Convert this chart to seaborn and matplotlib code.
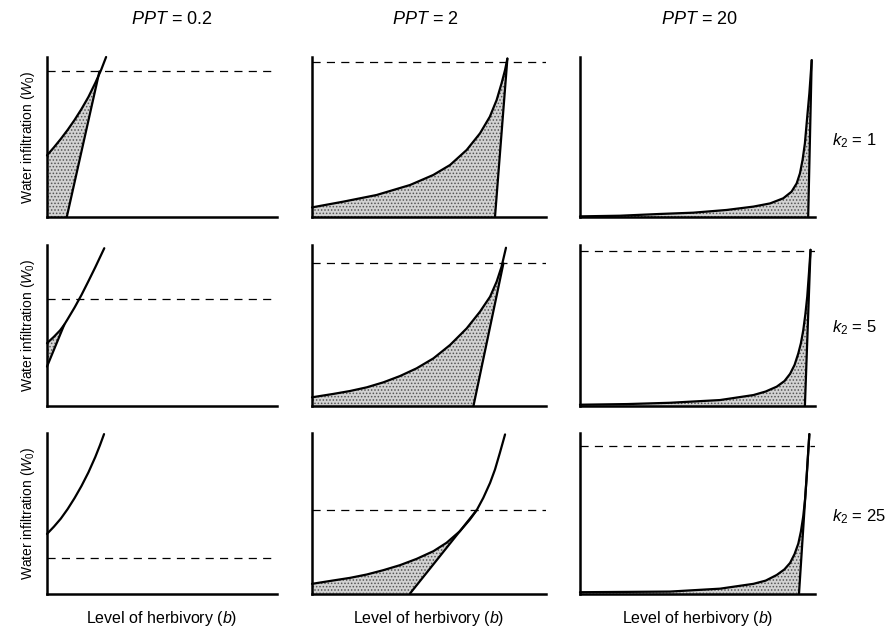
import numpy as np
import matplotlib
matplotlib.use("Agg")
import matplotlib.pyplot as plt
import seaborn as sns

# column / row headers
ppt_labels = ["0.2", "2", "20"]
k2_labels = ["1", "5", "25"]
ylabel = r"Water infiltration ($W_0$)"
xlabel = r"Level of herbivory ($b$)"

# curves (normalised panel coordinates, 0..1)
curve_x_r1c1 = [0.0, 0.03, 0.06, 0.09, 0.12, 0.15, 0.18, 0.21, 0.235, 0.257]
curve_y_r1c1 = [0.385, 0.435, 0.488, 0.545, 0.607, 0.675, 0.75, 0.838, 0.918, 1.0]
curve_x_r1c2 = [0.0, 0.134, 0.276, 0.419, 0.518, 0.59, 0.661, 0.718, 0.76, 0.789, 0.81, 0.825, 0.835]
curve_y_r1c2 = [0.06, 0.096, 0.1375, 0.2, 0.2625, 0.325, 0.419, 0.523, 0.627, 0.731, 0.835, 0.919, 0.99]
curve_x_r1c3 = [0.0, 0.17, 0.34, 0.482, 0.624, 0.738, 0.809, 0.865, 0.9, 0.922,
                0.936, 0.947, 0.957, 0.967, 0.976, 0.986]
curve_y_r1c3 = [0.004, 0.008, 0.019, 0.027, 0.044, 0.065, 0.085, 0.117, 0.158, 0.21,
                0.273, 0.356, 0.46, 0.627, 0.773, 0.98]

curve_x_r2c1 = [0.0, 0.03, 0.057, 0.075, 0.09, 0.12, 0.15, 0.18, 0.21, 0.249]
curve_y_r2c1 = [0.39, 0.43, 0.47, 0.505, 0.54, 0.612, 0.69, 0.775, 0.862, 0.98]
curve_x_r2c2 = [0.0, 0.091, 0.162, 0.234, 0.305, 0.376, 0.447, 0.519, 0.59, 0.661,
                0.718, 0.761, 0.789, 0.81, 0.829]
curve_y_r2c2 = [0.054, 0.075, 0.093, 0.116, 0.147, 0.186, 0.234, 0.296, 0.379, 0.482,
                0.586, 0.679, 0.772, 0.865, 0.983]
curve_x_r2c3 = [0.0, 0.2, 0.383, 0.596, 0.738, 0.79, 0.837, 0.87, 0.894, 0.913,
                0.929, 0.94, 0.95, 0.959, 0.967, 0.974, 0.981]
curve_y_r2c3 = [0.008, 0.012, 0.02, 0.037, 0.068, 0.09, 0.12, 0.155, 0.2, 0.255,
                0.327, 0.39, 0.47, 0.57, 0.68, 0.82, 0.97]

curve_x_r3c1 = [0.0, 0.03, 0.06, 0.09, 0.12, 0.15, 0.18, 0.21, 0.23, 0.248]
curve_y_r3c1 = [0.37, 0.415, 0.465, 0.525, 0.593, 0.668, 0.752, 0.848, 0.92, 0.99]
curve_x_r3c2 = [0.0, 0.091, 0.162, 0.234, 0.305, 0.376, 0.447, 0.519, 0.575, 0.632,
                0.675, 0.704, 0.732, 0.761, 0.782, 0.803, 0.825]
curve_y_r3c2 = [0.06, 0.081, 0.097, 0.118, 0.145, 0.176, 0.215, 0.263, 0.315, 0.387,
                0.46, 0.518, 0.594, 0.687, 0.77, 0.874, 0.988]
curve_x_r3c3 = [0.0, 0.2, 0.383, 0.596, 0.738, 0.79, 0.837, 0.87, 0.894, 0.913,
                0.929, 0.94, 0.95, 0.958, 0.964, 0.97, 0.976]
curve_y_r3c3 = [0.008, 0.01, 0.012, 0.03, 0.06, 0.08, 0.115, 0.15, 0.19, 0.245,
                0.31, 0.385, 0.48, 0.59, 0.71, 0.85, 0.99]

# straight lines: [x0, x1], [y0, y1]  (None = no line)
line_r1c1 = ([0.086, 0.228], [0.0, 0.91])
line_r1c2 = ([0.782, 0.835], [0.0, 0.99])
line_r1c3 = ([0.971, 0.986], [0.0, 0.98])
line_r2c1 = ([0.0, 0.075], [0.245, 0.505])
line_r2c2 = ([0.69, 0.818], [0.0, 0.886])
line_r2c3 = ([0.957, 0.981], [0.0, 0.97])
line_r3c1 = None
line_r3c2 = ([0.419, 0.704], [0.0, 0.518])
line_r3c3 = ([0.932, 0.976], [0.0, 0.99])

# dashed horizontal levels (None = off the panel)
dash_row1 = [0.91, 0.97, None]
dash_row2 = [0.665, 0.886, 0.96]
dash_row3 = [0.22, 0.517, 0.916]

curves = [
    [(curve_x_r1c1, curve_y_r1c1), (curve_x_r1c2, curve_y_r1c2), (curve_x_r1c3, curve_y_r1c3)],
    [(curve_x_r2c1, curve_y_r2c1), (curve_x_r2c2, curve_y_r2c2), (curve_x_r2c3, curve_y_r2c3)],
    [(curve_x_r3c1, curve_y_r3c1), (curve_x_r3c2, curve_y_r3c2), (curve_x_r3c3, curve_y_r3c3)],
]
lines = [
    [line_r1c1, line_r1c2, line_r1c3],
    [line_r2c1, line_r2c2, line_r2c3],
    [line_r3c1, line_r3c2, line_r3c3],
]
dashes = [dash_row1, dash_row2, dash_row3]

sns.set_theme(style="white")
plt.rcParams['font.family'] = ['Liberation Sans', 'DejaVu Sans']
plt.rcParams['mathtext.fontset'] = 'custom'
plt.rcParams['mathtext.rm'] = 'Liberation Sans'
plt.rcParams['mathtext.it'] = 'Liberation Sans:italic'
plt.rcParams['hatch.linewidth'] = 0.7

W, H = 890, 637
fig = plt.figure(figsize=(W / 100, H / 100), dpi=100)

# panel boxes in pixels
col_left = [47, 312, 580]
col_width = [230, 234, 235]
row_bottom = [217, 406, 593.5]
row_height = [160, 161, 161]

for r in range(3):
    for c in range(3):
        ax = fig.add_axes([col_left[c] / W, 1 - row_bottom[r] / H,
                           col_width[c] / W, row_height[r] / H])
        ax.set_xlim(0, 1)
        ax.set_ylim(0, 1)
        for s in ["top", "right"]:
            ax.spines[s].set_visible(False)
        for s in ["left", "bottom"]:
            ax.spines[s].set_color("black")
            ax.spines[s].set_linewidth(1.8)

        cx, cy = curves[r][c]
        ln = lines[r][c]

        # stippled region between curve and line
        if ln is not None:
            (lx0, lx1), (ly0, ly1) = ln
            verts = [(lx0, ly0), (lx1, ly1)]
            verts += [(x, y) for x, y in zip(cx[::-1], cy[::-1]) if x < lx1]
            if ly0 == 0:
                verts.append((0, 0))
            vx, vy = zip(*verts)
            ax.fill(vx, vy, facecolor="#d2d2d2", edgecolor="#555555",
                    hatch=".....", linewidth=0, zorder=1)

        sns.lineplot(x=cx, y=cy, ax=ax, color="black", linewidth=1.6,
                     clip_on=False, zorder=3, sort=False)
        if ln is not None:
            sns.lineplot(x=ln[0], y=ln[1], ax=ax, color="black",
                         linewidth=1.6, clip_on=False, zorder=3, sort=False)

        d = dashes[r][c]
        if d is not None:
            ax.axhline(d, color="black", linewidth=0.9,
                       linestyle=(0, (6.5, 5)), zorder=2)

        ax.set_xticks([])
        ax.set_yticks([])
        ax.set_xlabel("")
        ax.set_ylabel("")
        if c == 0:
            ax.set_ylabel(ylabel, fontsize=10, labelpad=7, color="black",
                          visible=True)
        if r == 2:
            ax.set_xlabel(xlabel, fontsize=11.5, labelpad=11, color="black",
                          visible=True)

# column titles
title_x = [172, 425, 699]
for c in range(3):
    fig.text(title_x[c] / W, 1 - 19 / H, r"$PPT$ = " + ppt_labels[c],
             ha="center", va="center", fontsize=13, color="black")

# row labels
label_y = [141, 328, 517]
for r in range(3):
    fig.text(832 / W, 1 - label_y[r] / H, r"$k_2$ = " + k2_labels[r],
             ha="left", va="center", fontsize=12, color="black")

fig.savefig("out.png", dpi=100, facecolor="white")
